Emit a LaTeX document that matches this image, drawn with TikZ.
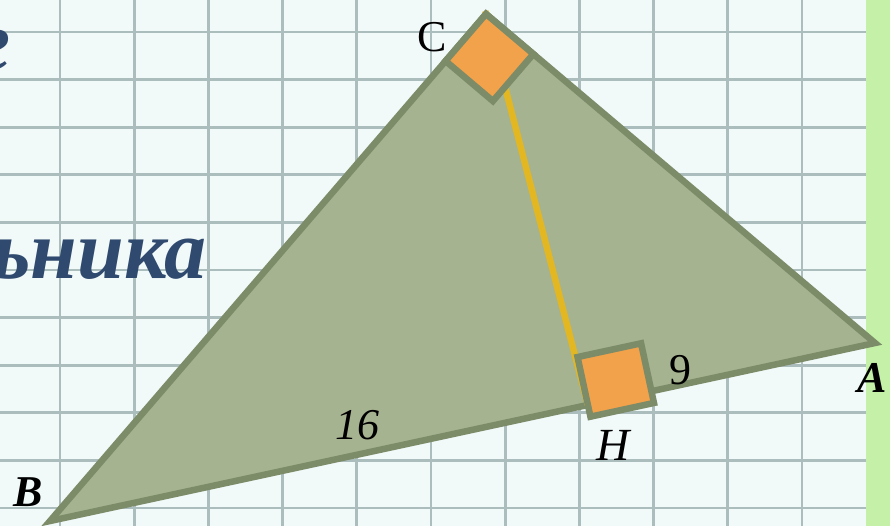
\documentclass[tikz,border=0pt]{standalone}
\usepackage{fontspec}
\setmainfont{Liberation Serif}
\usepackage{tikz}
\usetikzlibrary{
calc
}

\definecolor{paper}{RGB}{241,249,249}
\definecolor{gridcol}{RGB}{172,189,190}
\definecolor{barcol}{RGB}{196,240,168}
\definecolor{trifill}{RGB}{166,179,145}
\definecolor{triline}{RGB}{124,139,104}
\definecolor{markfill}{RGB}{242,162,74}
\definecolor{altcol}{RGB}{226,183,34}
\definecolor{titlecol}{RGB}{47,74,110}

\begin{document}
\begin{tikzpicture}[
x=1pt,y=-1pt,
gridline/.style={gridcol,line width=2.8pt},
tri/.style={fill=trifill,draw=triline,line width=6.5pt,line join=miter},
rightmark/.style={fill=markfill,draw=triline,line width=6.5pt},
altitude/.style={altcol,line width=6.5pt},
lbl/.style={inner sep=0pt,font=\fontsize{44}{44}\selectfont},
title/.style={inner sep=0pt,text=titlecol,font=\fontsize{84}{84}\selectfont\bfseries\itshape}
]

\useasboundingbox (0,0) rectangle (890,526);
\clip (0,0) rectangle (890,526);

% squared paper
\fill[paper] (0,0) rectangle (890,526);
\foreach \gx in {0,...,10}
\draw[gridline] ({60+74.2*\gx},0) -- ({60+74.2*\gx},526);
\foreach \gy in {0,...,10}
\draw[gridline] (0,{32+47.6*\gy}) -- (866,{32+47.6*\gy});
\fill[barcol] (866,0) rectangle (890,526);

\node[title,anchor=base east] (head) at (11,70) {г};
\node[title,anchor=base east] (word) at (207,278) {ьника};

% triangle
\coordinate (B) at (50,521);
\coordinate (A) at (875,343);
\coordinate (C) at (486,14);
\coordinate (H) at ($(B)!0.652!(A)$);

\draw[tri] (B) -- (A) -- (C) -- cycle;
\draw[altitude] ($(C)!-3pt!(H)$) -- (H);

\coordinate (cb) at ($(C)!62pt!(B)$);
\coordinate (ca) at ($(C)!62pt!(A)$);
\coordinate (cc) at ($(cb)+(ca)-(C)$);
\draw[rightmark] (C) -- (cb) -- (cc) -- (ca) -- cycle;

\begin{scope}[shift={(H)},rotate=12.2]
\draw[rightmark] (0pt,-12pt) rectangle (65pt,49pt);
\end{scope}

\node[lbl] (labC) at (432,37) {C};
\node[lbl,font=\fontsize{46}{46}\selectfont\itshape] (labH) at (613,445) {H};
\node[lbl] (lab9) at (680,370) {9};
\node[lbl,font=\fontsize{44}{44}\selectfont\itshape] (lab16) at (357,425) {16};
\node[lbl,font=\fontsize{44}{44}\selectfont\bfseries\itshape] (labA) at (872,378) {A};
\node[lbl,font=\fontsize{44}{44}\selectfont\bfseries\itshape] (labB) at (28,492) {B};

\end{tikzpicture}
\end{document}
